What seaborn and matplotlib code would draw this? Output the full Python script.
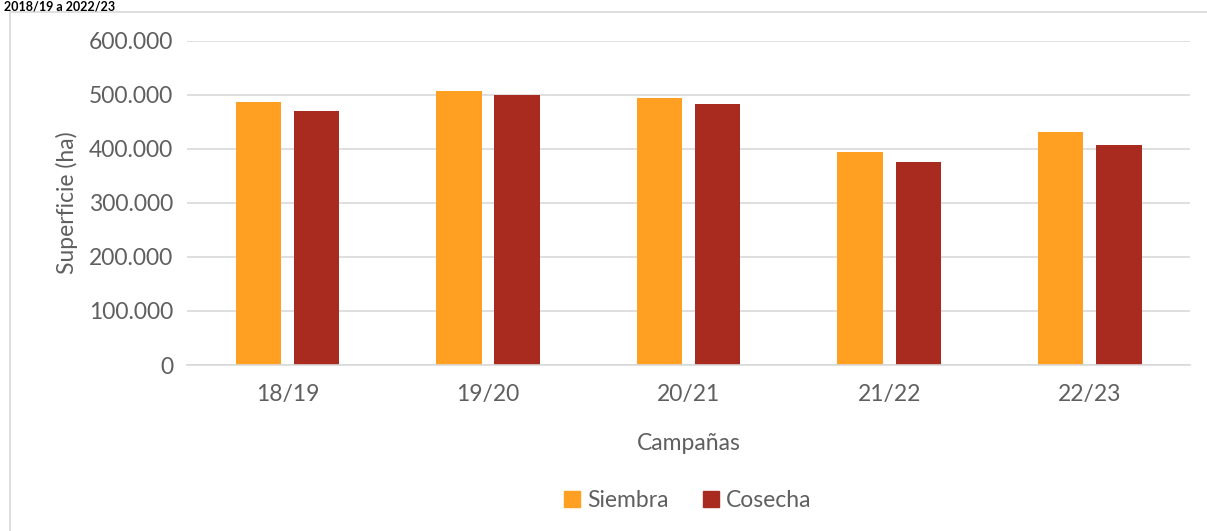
import pandas as pd
import seaborn as sns
import matplotlib.pyplot as plt
from matplotlib.patches import Rectangle

# Data
campanas = ['18/19', '19/20', '20/21', '21/22', '22/23']
siembra = [487000, 507000, 494000, 395000, 432000]
cosecha = [470000, 500000, 483000, 375000, 407000]

df = pd.DataFrame({
    'Campañas': campanas * 2,
    'Superficie': siembra + cosecha,
    'Serie': ['Siembra'] * len(campanas) + ['Cosecha'] * len(campanas),
})

sns.set_style('white')
plt.rcParams['font.family'] = ['Lato', 'DejaVu Sans']
gray = '#5f5f5f'
colors = {'Siembra': '#FFA023', 'Cosecha': '#A92A1F'}

fig = plt.figure(figsize=(12.07, 5.31), dpi=100)
ax = fig.add_axes([0.155, 0.3126, 0.831, 0.6104])

sns.barplot(data=df, x='Campañas', y='Superficie', hue='Serie', palette=colors,
            saturation=1, width=0.58, gap=0.22, linewidth=0, ax=ax, legend=False)

ax.set_ylim(0, 600000)
ax.set_yticks(range(0, 600001, 100000))
ax.set_yticklabels(['0' if v == 0 else f'{v:,}'.replace(',', '.') for v in range(0, 600001, 100000)])
ax.yaxis.grid(True, color='#d9d9d9', linewidth=1.2)
ax.set_axisbelow(True)
for s in ['top', 'right', 'left']:
    ax.spines[s].set_visible(False)
ax.spines['bottom'].set_color('#d9d9d9')
ax.spines['bottom'].set_linewidth(1.2)
ax.tick_params(axis='both', length=0, labelsize=16.5, labelcolor=gray, pad=10)
ax.tick_params(axis='x', pad=14)
ax.set_xlabel('Campañas', fontsize=16.5, color=gray, labelpad=20)
ax.set_ylabel('Superficie (ha)', fontsize=16.5, color=gray, labelpad=8)

handles = [Rectangle((0, 0), 1, 1, color=colors['Siembra']),
           Rectangle((0, 0), 1, 1, color=colors['Cosecha'])]
fig.legend(handles, ['Siembra', 'Cosecha'], loc='center', bbox_to_anchor=(0.57, 0.058),
           ncol=2, frameon=False, fontsize=16.5, labelcolor=gray,
           handlelength=0.7, handleheight=0.7, handletextpad=0.3, columnspacing=1.5)

# chart frame and title
fig.patches.append(Rectangle((10 / 1207, -0.01), 1.1, 1 - 12 / 531 + 0.01,
                             transform=fig.transFigure, fill=False,
                             edgecolor='#d9d9d9', linewidth=1.2))
fig.text(0.003, 0.999, '2018/19 a 2022/23', fontsize=9, fontweight='bold',
         color='black', va='top', ha='left')

fig.savefig('out.png', dpi=100)
